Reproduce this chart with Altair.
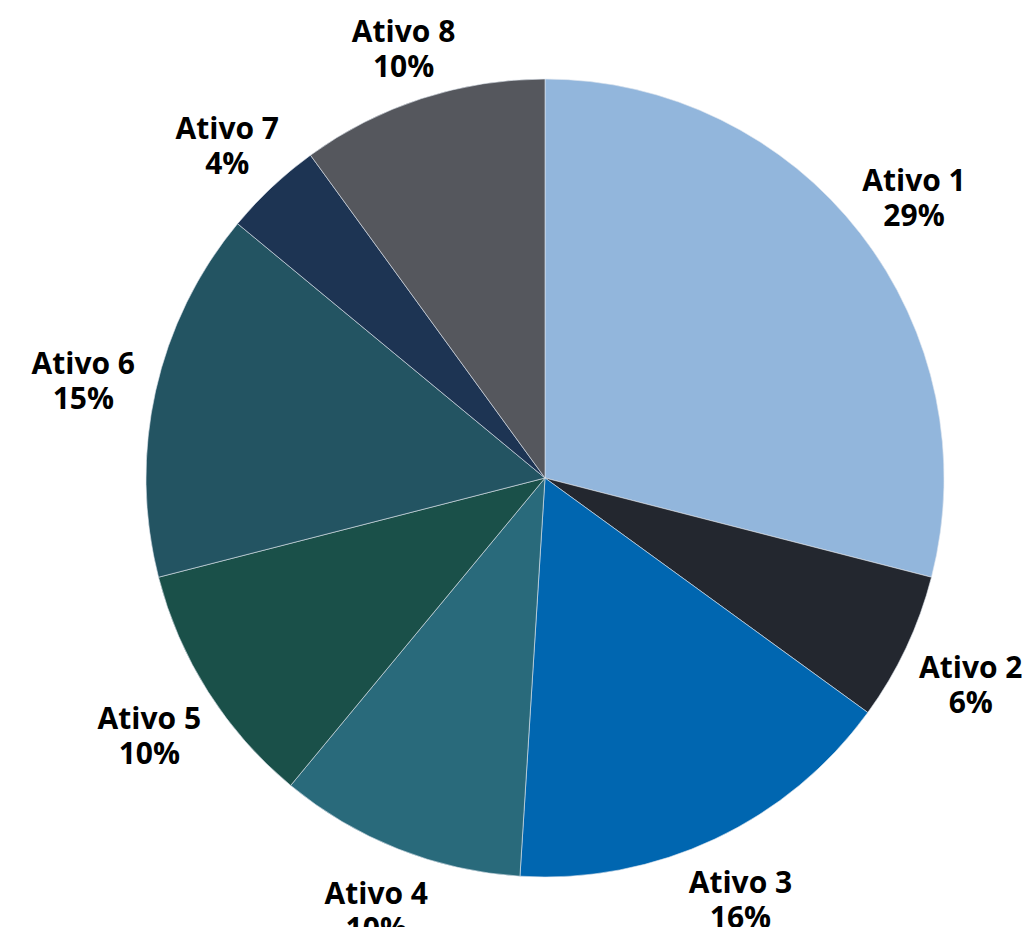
import altair as alt
import pandas as pd

categories = ["Ativo 1", "Ativo 2", "Ativo 3", "Ativo 4", "Ativo 5", "Ativo 6", "Ativo 7", "Ativo 8"]
values = [29, 6, 16, 10, 10, 15, 4, 10]
colors = ["#92B6DC", "#23272F", "#0066B0", "#296A7B", "#1A5049", "#235462", "#1D3453", "#55575D"]

df = pd.DataFrame({
    "cat": categories,
    "val": values,
    "idx": list(range(len(categories))),
    "pct": [f"{v}%" for v in values],
})

CX, CY = 537, 470
R = 399
FONT = "Open Sans"
FS = 30
SHIFT = 8
GAP = 17.5

pie = alt.Chart(df).mark_arc(outerRadius=R, x=CX, y=CY, stroke="#dfe6ee", strokeWidth=0.6).encode(
    theta=alt.Theta("val:Q", stack=True),
    order=alt.Order("idx:Q", sort="ascending"),
    color=alt.Color("cat:N", scale=alt.Scale(domain=categories, range=colors), legend=None),
)

lbl = alt.Chart(df).transform_window(
    cum="sum(val)", sort=[alt.SortField("idx", order="ascending")], frame=[None, 0]
).transform_joinaggregate(
    total="sum(val)"
).transform_calculate(
    mid="(datum.cum - datum.val / 2) / datum.total * 2 * PI"
).transform_calculate(
    lr="1 / sqrt(pow(sin(datum.mid) / 474, 2) + pow(cos(datum.mid) / 456, 2))"
).encode(
    theta=alt.Theta("mid:Q", scale=None, stack=False),
    radius=alt.Radius("lr:Q", scale=None),
)

t1 = lbl.mark_text(x=CX, y=CY, dy=SHIFT - GAP, font=FONT, fontSize=FS, fontWeight="bold",
                   color="#000000", align="center", baseline="middle").encode(text="cat:N")
t2 = lbl.mark_text(x=CX, y=CY, dy=SHIFT + GAP, font=FONT, fontSize=FS, fontWeight="bold",
                   color="#000000", align="center", baseline="middle").encode(text="pct:N")

chart = alt.layer(pie, t1, t2).properties(
    width=1014, height=919, padding=0, autosize=alt.AutoSizeParams(type="none")
).configure_view(stroke=None)

chart.save("out.html", embed_options={"renderer": "svg", "actions": False})
